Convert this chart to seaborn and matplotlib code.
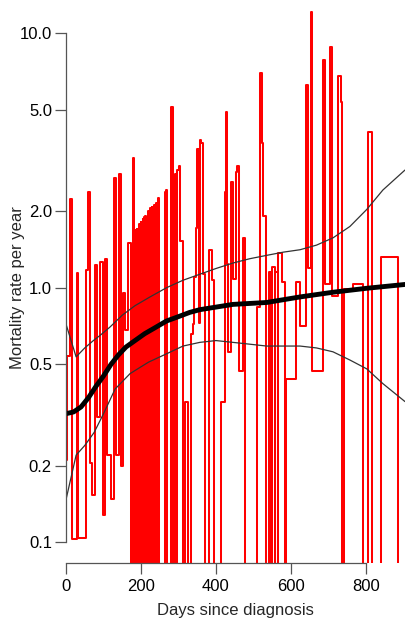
import numpy as np
import pandas as pd
import matplotlib
matplotlib.use("Agg")
import matplotlib.pyplot as plt
from matplotlib.ticker import FixedLocator, NullLocator
import seaborn as sns

# piecewise rate estimate: start day of each interval and the rate (0 = no deaths)
step_days = [0, 3.5, 10.7, 16, 28.5, 33, 53, 59, 64, 69, 77, 83.5, 91, 98, 104, 108.5,
             119, 128, 133, 140.5, 146, 153, 158, 166, 172.5, 178, 181.5,
             184, 186, 188.5, 190.5, 195.5, 197.5, 199, 201, 204.5, 206.5, 208, 210,
             211.5, 213.5, 219.5, 221.5, 224, 226, 228.5, 230.5, 234.5, 236.5, 240, 242,
             246, 248, 264, 266, 269, 281, 285, 290, 293.5, 297, 301, 304.5, 311,
             317, 326, 333, 338, 342, 345.5, 350.5, 355.5, 357.5, 361, 364, 371,
             382, 389, 395, 412.5, 424, 427, 430, 433, 440, 444.5, 453, 457, 461, 473,
             478, 510, 517, 523, 526, 533, 541, 546, 549, 556, 558, 564, 566, 575, 584,
             587, 613, 624, 640, 646, 653, 657, 685, 691, 704, 708.5, 726, 732, 736,
             741, 764.5, 793, 804.5, 815, 840, 884.5]
step_rates = [0.21, 0.54, 2.23, 0.103, 1.14, 0.104, 1.17, 2.37, 0.205, 0.154, 1.23, 0.31, 1.26, 0.128, 1.3, 0.22,
              0.148, 2.69, 0.22, 2.8, 0.2, 0.95, 0.68, 1.5, 0, 3.23, 0,
              1.69, 0, 1.70, 0, 1.78, 0, 1.82, 0, 1.87, 0, 1.9, 0,
              1.92, 0, 2.0, 0, 2.05, 0, 2.08, 0, 2.12, 0, 2.15, 0,
              2.25, 0, 2.37, 2.42, 0, 5.12, 0, 2.8, 0, 2.9, 3.02, 1.52, 0,
              0.357, 0, 0.66, 0.72, 1.1, 1.72, 3.52, 0.73, 3.8, 3.7, 1.13, 0,
              1.41, 1.07, 0, 0.357, 2.37, 4.88, 1.24, 0.56, 2.61, 1.08, 2.86, 3.0, 0.47, 1.57,
              0, 0.84, 7.0, 3.7, 1.92, 0, 1.15, 0, 1.21, 0, 1.15, 0, 1.37, 1.05, 0,
              0.436, 1.05, 0.708, 6.27, 1.2, 12.1, 0.472, 7.85, 1.03, 8.8, 0.93, 6.8, 5.38, 0,
              0.99, 1.03, 0, 4.1, 0, 1.32, 0]
step_end = 910

# smoothed rate and its confidence band
smooth_days = [0, 20, 40, 60, 80, 100, 120, 140, 160, 184, 210, 240, 268, 300, 330, 357,
               445, 535, 624, 712, 802, 904]
smooth_rate = [0.32, 0.325, 0.34, 0.37, 0.41, 0.45, 0.50, 0.545, 0.585, 0.62, 0.66, 0.70, 0.74,
               0.77, 0.80, 0.82, 0.86, 0.875, 0.92, 0.96, 0.995, 1.03]
upper_days = [0, 27, 50, 73, 91, 117, 150, 184, 224, 268, 312, 357, 400, 445, 490, 535, 580,
              624, 668, 712, 757, 802, 845, 904]
upper_rate = [0.72, 0.535, 0.58, 0.62, 0.65, 0.70, 0.78, 0.85, 0.92, 1.0, 1.07, 1.13, 1.19, 1.25,
              1.30, 1.34, 1.38, 1.41, 1.47, 1.57, 1.74, 2.03, 2.42, 2.9]
lower_days = [0, 27, 50, 75, 100, 131, 171, 220, 268, 312, 357, 400, 445, 490, 535, 580, 624,
              668, 712, 757, 802, 845, 904]
lower_rate = [0.147, 0.22, 0.24, 0.27, 0.32, 0.40, 0.46, 0.51, 0.55, 0.59, 0.61, 0.62, 0.61,
              0.60, 0.59, 0.59, 0.59, 0.58, 0.56, 0.52, 0.48, 0.42, 0.357]

y_ticks = [0.1, 0.2, 0.5, 1.0, 2.0, 5.0, 10.0]
y_labels = ["0.1", "0.2", "0.5", "1.0", "2.0", "5.0", "10.0"]
x_ticks = [0, 200, 400, 600, 800]

sns.set_style("ticks")
plt.rcParams["font.family"] = ["Liberation Sans", "DejaVu Sans"]

fig = plt.figure(figsize=(4.05, 6.24), dpi=100)
ax = fig.add_axes([66 / 405, 61 / 624, 339 / 405, 563 / 624])

# zero rates are pushed below the axis so the steps drop to the bottom
steps = pd.DataFrame({
    "day": step_days + [step_end],
    "rate": [r if r > 0 else 1e-3 for r in step_rates] + [1e-3],
})
sns.lineplot(data=steps, x="day", y="rate", ax=ax, color="#ff0000", lw=1.45,
             drawstyle="steps-post", estimator=None, sort=False)

sns.lineplot(x=smooth_days, y=smooth_rate, ax=ax, color="black", lw=3.5,
             estimator=None, sort=False)
sns.lineplot(x=upper_days, y=upper_rate, ax=ax, color="#333333", lw=0.9,
             estimator=None, sort=False)
sns.lineplot(x=lower_days, y=lower_rate, ax=ax, color="#333333", lw=0.9,
             estimator=None, sort=False)

ax.set_yscale("log")
ax.set_xlim(0, 904)
ax.set_ylim(0.0829, 13.5)

ax.yaxis.set_major_locator(FixedLocator(y_ticks))
ax.yaxis.set_minor_locator(NullLocator())
ax.set_yticklabels(y_labels)
ax.set_xticks(x_ticks)

for side in ["top", "right"]:
    ax.spines[side].set_visible(False)
ax.spines["left"].set_bounds(0.1, 10)
ax.spines["bottom"].set_bounds(0, 800)
for side in ["left", "bottom"]:
    ax.spines[side].set_color("#555555")
    ax.spines[side].set_linewidth(0.9)

ax.tick_params(axis="both", direction="out", length=7.9, width=0.9, color="#555555",
               labelsize=12, labelcolor="black")
ax.tick_params(axis="y", pad=2.2)
ax.tick_params(axis="x", pad=3.6)

ax.set_xlabel("Days since diagnosis", fontsize=12)
ax.set_ylabel("Mortality rate per year", fontsize=12)
ax.xaxis.set_label_coords(0.5, -0.071)
ax.yaxis.set_label_coords(-0.121, 0.49)

fig.savefig("out.png", dpi=100)
